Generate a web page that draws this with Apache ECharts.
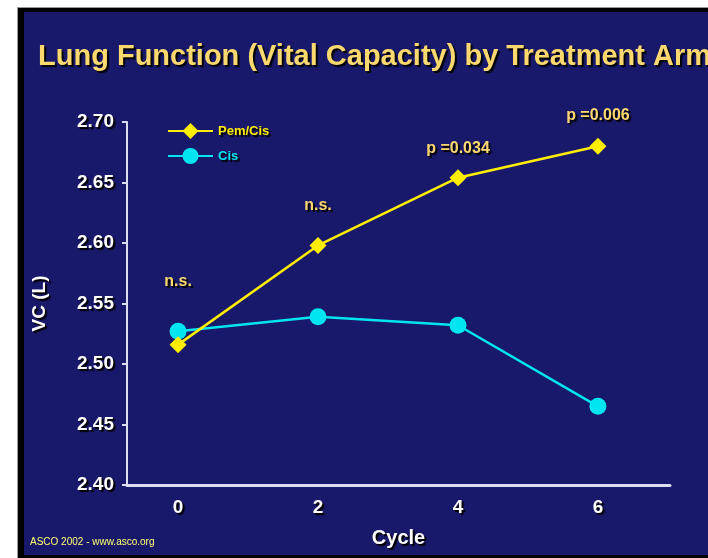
<!DOCTYPE html>
<html>
<head>
<meta charset="utf-8">
<script src="https://cdn.jsdelivr.net/npm/echarts@6/dist/echarts.min.js"></script>
<style>
html,body{margin:0;padding:0;background:#fff;}
#chart{width:708px;height:558px;}
</style>
</head>
<body>
<div id="chart"></div>
<script>
var cycles = [0, 2, 4, 6];
var pemCis = [2.516, 2.598, 2.654, 2.680];
var cis = [2.527, 2.539, 2.532, 2.465];
var annotations = ['n.s.', 'n.s.', 'p =0.034', 'p =0.006'];
var annotationY = [2.568, 2.631, 2.678, 2.705];
var yTicks = [2.40, 2.45, 2.50, 2.55, 2.60, 2.65, 2.70];

var navy = '#19196b';
var gold = '#fbd96e';
var shadow = {textShadowColor: '#000', textShadowOffsetX: 2, textShadowOffsetY: 2, textShadowBlur: 1};
var font = '"Liberation Sans", Arial, sans-serif';

var chart = echarts.init(document.getElementById('chart'));
chart.setOption({
  backgroundColor: '#ffffff',
  animation: false,
  graphic: [
    {type: 'rect', z: -10, silent: true, shape: {x: 17, y: 7, width: 691, height: 551}, style: {fill: '#9a9a9a'}},
    {type: 'rect', z: -9, silent: true, shape: {x: 18, y: 8, width: 690, height: 550}, style: {fill: '#000'}},
    {type: 'rect', z: -8, silent: true, shape: {x: 24, y: 12, width: 684, height: 543}, style: {fill: navy}},
    {type: 'text', left: 30, top: 537, silent: true,
     style: {text: 'ASCO 2002 - www.asco.org', fill: '#ffff70', font: '10px ' + font}}
  ],
  title: {
    text: 'Lung Function (Vital Capacity) by Treatment Arm',
    left: 33, top: 37,
    textStyle: Object.assign({color: gold, fontSize: 29, fontWeight: 'bold', fontFamily: font}, shadow)
  },
  legend: {
    orient: 'vertical', left: 162, top: 118,
    itemWidth: 45, itemHeight: 20, itemGap: 9,
    data: [
      {name: 'Pem/Cis', textStyle: Object.assign({color: '#ffee00', fontWeight: 'bold', fontSize: 13, fontFamily: font}, shadow)},
      {name: 'Cis', textStyle: Object.assign({color: '#00e6f0', fontWeight: 'bold', fontSize: 13, fontFamily: font}, shadow)}
    ]
  },
  grid: {left: 127, right: 38, top: 122, bottom: 73, containLabel: false},
  xAxis: {
    type: 'value', min: -0.73, max: 7.03,
    name: 'Cycle', nameLocation: 'middle', nameGap: 43,
    nameTextStyle: Object.assign({color: '#fff', fontSize: 20, fontWeight: 'bold', fontFamily: font}, shadow),
    axisLine: {onZero: false, lineStyle: {color: '#dcdcf2', width: 3}},
    axisTick: {show: false},
    splitLine: {show: false},
    axisLabel: {
      customValues: cycles, margin: 13,
      color: '#fff', fontSize: 19, fontWeight: 'bold', fontFamily: font,
      textShadowColor: '#000', textShadowOffsetX: 2, textShadowOffsetY: 2, textShadowBlur: 1
    }
  },
  yAxis: {
    type: 'value', min: 2.40, max: 2.70, interval: 0.05,
    name: 'VC (L)', nameLocation: 'middle', nameGap: 78, nameRotate: 90,
    nameTextStyle: Object.assign({color: '#fff', fontSize: 19, fontWeight: 'bold', fontFamily: font}, shadow),
    axisLine: {show: true, onZero: false, lineStyle: {color: '#dcdcf2', width: 2}},
    axisTick: {show: true, length: 5, lineStyle: {color: '#dcdcf2', width: 2}},
    splitLine: {show: false},
    axisLabel: {
      customValues: yTicks, margin: 13,
      formatter: function (v) { return v.toFixed(2); },
      color: '#fff', fontSize: 19, fontWeight: 'bold', fontFamily: font,
      textShadowColor: '#000', textShadowOffsetX: 2, textShadowOffsetY: 2, textShadowBlur: 1
    }
  },
  series: [
    {
      name: 'Pem/Cis', type: 'line', z: 4,
      data: cycles.map(function (c, i) { return [c, pemCis[i]]; }),
      symbol: 'diamond', symbolSize: 17,
      lineStyle: {color: '#ffee00', width: 2.5},
      itemStyle: {color: '#ffee00'}
    },
    {
      name: 'Cis', type: 'line', z: 3,
      data: cycles.map(function (c, i) { return [c, cis[i]]; }),
      symbol: 'circle', symbolSize: 17,
      lineStyle: {color: '#00e6f0', width: 2.5},
      itemStyle: {color: '#00e6f0'}
    },
    {
      name: 'annotations', type: 'scatter', clip: false, silent: true,
      symbolSize: 0,
      itemStyle: {opacity: 1, color: gold},
      data: cycles.map(function (c, i) { return {value: [c, annotationY[i]], name: annotations[i]}; }),
      label: Object.assign({
        show: true, position: 'inside', opacity: 1,
        formatter: function (p) { return p.name; },
        color: gold, fontSize: 16, fontWeight: 'bold', fontFamily: font
      }, shadow)
    }
  ]
});
</script>
</body>
</html>
